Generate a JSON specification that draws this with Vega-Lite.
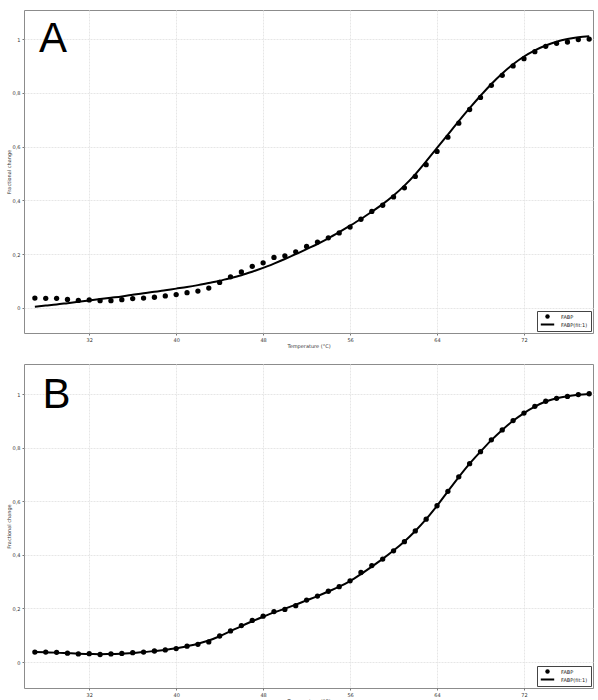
{
  "$schema": "https://vega.github.io/schema/vega-lite/v6.json",
  "padding": {"left": 5, "top": 9, "right": 2, "bottom": 0},
  "background": "white",
  "datasets": {
    "pts": [
      {"panel": "A", "t": 27, "v": 0.037}, {"panel": "A", "t": 28, "v": 0.036}, {"panel": "A", "t": 29, "v": 0.036}, {"panel": "A", "t": 30, "v": 0.032},
      {"panel": "A", "t": 31, "v": 0.028}, {"panel": "A", "t": 32, "v": 0.030}, {"panel": "A", "t": 33, "v": 0.027}, {"panel": "A", "t": 34, "v": 0.027},
      {"panel": "A", "t": 35, "v": 0.031}, {"panel": "A", "t": 36, "v": 0.035}, {"panel": "A", "t": 37, "v": 0.037}, {"panel": "A", "t": 38, "v": 0.040},
      {"panel": "A", "t": 39, "v": 0.045}, {"panel": "A", "t": 40, "v": 0.050}, {"panel": "A", "t": 41, "v": 0.057}, {"panel": "A", "t": 42, "v": 0.063},
      {"panel": "A", "t": 43, "v": 0.074}, {"panel": "A", "t": 44, "v": 0.095}, {"panel": "A", "t": 45, "v": 0.116}, {"panel": "A", "t": 46, "v": 0.134},
      {"panel": "A", "t": 47, "v": 0.155}, {"panel": "A", "t": 48, "v": 0.168}, {"panel": "A", "t": 49, "v": 0.188}, {"panel": "A", "t": 50, "v": 0.194},
      {"panel": "A", "t": 51, "v": 0.209}, {"panel": "A", "t": 52, "v": 0.229}, {"panel": "A", "t": 53, "v": 0.245}, {"panel": "A", "t": 54, "v": 0.261},
      {"panel": "A", "t": 55, "v": 0.279}, {"panel": "A", "t": 56, "v": 0.301}, {"panel": "A", "t": 57, "v": 0.330}, {"panel": "A", "t": 58, "v": 0.359},
      {"panel": "A", "t": 59, "v": 0.382}, {"panel": "A", "t": 60, "v": 0.413}, {"panel": "A", "t": 61, "v": 0.447}, {"panel": "A", "t": 62, "v": 0.489},
      {"panel": "A", "t": 63, "v": 0.533}, {"panel": "A", "t": 64, "v": 0.582}, {"panel": "A", "t": 65, "v": 0.635}, {"panel": "A", "t": 66, "v": 0.687},
      {"panel": "A", "t": 67, "v": 0.738}, {"panel": "A", "t": 68, "v": 0.783}, {"panel": "A", "t": 69, "v": 0.828}, {"panel": "A", "t": 70, "v": 0.865},
      {"panel": "A", "t": 71, "v": 0.900}, {"panel": "A", "t": 72, "v": 0.927}, {"panel": "A", "t": 73, "v": 0.953}, {"panel": "A", "t": 74, "v": 0.973},
      {"panel": "A", "t": 75, "v": 0.984}, {"panel": "A", "t": 76, "v": 0.989}, {"panel": "A", "t": 77, "v": 0.998}, {"panel": "A", "t": 78, "v": 1.000},
      {"panel": "B", "t": 27, "v": 0.037}, {"panel": "B", "t": 28, "v": 0.037}, {"panel": "B", "t": 29, "v": 0.036}, {"panel": "B", "t": 30, "v": 0.033},
      {"panel": "B", "t": 31, "v": 0.030}, {"panel": "B", "t": 32, "v": 0.031}, {"panel": "B", "t": 33, "v": 0.028}, {"panel": "B", "t": 34, "v": 0.030},
      {"panel": "B", "t": 35, "v": 0.032}, {"panel": "B", "t": 36, "v": 0.035}, {"panel": "B", "t": 37, "v": 0.037}, {"panel": "B", "t": 38, "v": 0.041},
      {"panel": "B", "t": 39, "v": 0.045}, {"panel": "B", "t": 40, "v": 0.050}, {"panel": "B", "t": 41, "v": 0.059}, {"panel": "B", "t": 42, "v": 0.066},
      {"panel": "B", "t": 43, "v": 0.075}, {"panel": "B", "t": 44, "v": 0.097}, {"panel": "B", "t": 45, "v": 0.116}, {"panel": "B", "t": 46, "v": 0.136},
      {"panel": "B", "t": 47, "v": 0.155}, {"panel": "B", "t": 48, "v": 0.171}, {"panel": "B", "t": 49, "v": 0.188}, {"panel": "B", "t": 50, "v": 0.196},
      {"panel": "B", "t": 51, "v": 0.210}, {"panel": "B", "t": 52, "v": 0.231}, {"panel": "B", "t": 53, "v": 0.246}, {"panel": "B", "t": 54, "v": 0.264},
      {"panel": "B", "t": 55, "v": 0.281}, {"panel": "B", "t": 56, "v": 0.303}, {"panel": "B", "t": 57, "v": 0.334}, {"panel": "B", "t": 58, "v": 0.360},
      {"panel": "B", "t": 59, "v": 0.384}, {"panel": "B", "t": 60, "v": 0.415}, {"panel": "B", "t": 61, "v": 0.449}, {"panel": "B", "t": 62, "v": 0.489},
      {"panel": "B", "t": 63, "v": 0.533}, {"panel": "B", "t": 64, "v": 0.583}, {"panel": "B", "t": 65, "v": 0.637}, {"panel": "B", "t": 66, "v": 0.691},
      {"panel": "B", "t": 67, "v": 0.740}, {"panel": "B", "t": 68, "v": 0.785}, {"panel": "B", "t": 69, "v": 0.829}, {"panel": "B", "t": 70, "v": 0.866},
      {"panel": "B", "t": 71, "v": 0.901}, {"panel": "B", "t": 72, "v": 0.929}, {"panel": "B", "t": 73, "v": 0.954}, {"panel": "B", "t": 74, "v": 0.973},
      {"panel": "B", "t": 75, "v": 0.984}, {"panel": "B", "t": 76, "v": 0.991}, {"panel": "B", "t": 77, "v": 0.998}, {"panel": "B", "t": 78, "v": 1.001}
    ],
    "fit": [
      {"panel": "A", "t": 27, "v": 0.005}, {"panel": "A", "t": 28, "v": 0.009}, {"panel": "A", "t": 29, "v": 0.013}, {"panel": "A", "t": 30, "v": 0.018},
      {"panel": "A", "t": 31, "v": 0.023}, {"panel": "A", "t": 32, "v": 0.028}, {"panel": "A", "t": 33, "v": 0.033}, {"panel": "A", "t": 34, "v": 0.038},
      {"panel": "A", "t": 35, "v": 0.043}, {"panel": "A", "t": 36, "v": 0.049}, {"panel": "A", "t": 37, "v": 0.055}, {"panel": "A", "t": 38, "v": 0.060},
      {"panel": "A", "t": 39, "v": 0.066}, {"panel": "A", "t": 40, "v": 0.072}, {"panel": "A", "t": 41, "v": 0.078}, {"panel": "A", "t": 42, "v": 0.085},
      {"panel": "A", "t": 43, "v": 0.093}, {"panel": "A", "t": 44, "v": 0.101}, {"panel": "A", "t": 45, "v": 0.111}, {"panel": "A", "t": 46, "v": 0.122},
      {"panel": "A", "t": 47, "v": 0.135}, {"panel": "A", "t": 48, "v": 0.149}, {"panel": "A", "t": 49, "v": 0.165}, {"panel": "A", "t": 50, "v": 0.182},
      {"panel": "A", "t": 51, "v": 0.200}, {"panel": "A", "t": 52, "v": 0.219}, {"panel": "A", "t": 53, "v": 0.238}, {"panel": "A", "t": 54, "v": 0.259},
      {"panel": "A", "t": 55, "v": 0.282}, {"panel": "A", "t": 56, "v": 0.306}, {"panel": "A", "t": 57, "v": 0.331}, {"panel": "A", "t": 58, "v": 0.358},
      {"panel": "A", "t": 59, "v": 0.386}, {"panel": "A", "t": 60, "v": 0.418}, {"panel": "A", "t": 61, "v": 0.455}, {"panel": "A", "t": 62, "v": 0.497},
      {"panel": "A", "t": 63, "v": 0.545}, {"panel": "A", "t": 64, "v": 0.595}, {"panel": "A", "t": 65, "v": 0.645}, {"panel": "A", "t": 66, "v": 0.695},
      {"panel": "A", "t": 67, "v": 0.743}, {"panel": "A", "t": 68, "v": 0.789}, {"panel": "A", "t": 69, "v": 0.833}, {"panel": "A", "t": 70, "v": 0.872},
      {"panel": "A", "t": 71, "v": 0.906}, {"panel": "A", "t": 72, "v": 0.935}, {"panel": "A", "t": 73, "v": 0.958}, {"panel": "A", "t": 74, "v": 0.976},
      {"panel": "A", "t": 75, "v": 0.990}, {"panel": "A", "t": 76, "v": 1.000}, {"panel": "A", "t": 77, "v": 1.007}, {"panel": "A", "t": 78, "v": 1.010},
      {"panel": "B", "t": 27, "v": 0.037}, {"panel": "B", "t": 28, "v": 0.036}, {"panel": "B", "t": 29, "v": 0.035}, {"panel": "B", "t": 30, "v": 0.033},
      {"panel": "B", "t": 31, "v": 0.031}, {"panel": "B", "t": 32, "v": 0.030}, {"panel": "B", "t": 33, "v": 0.029}, {"panel": "B", "t": 34, "v": 0.030},
      {"panel": "B", "t": 35, "v": 0.031}, {"panel": "B", "t": 36, "v": 0.034}, {"panel": "B", "t": 37, "v": 0.037}, {"panel": "B", "t": 38, "v": 0.041},
      {"panel": "B", "t": 39, "v": 0.045}, {"panel": "B", "t": 40, "v": 0.051}, {"panel": "B", "t": 41, "v": 0.059}, {"panel": "B", "t": 42, "v": 0.068},
      {"panel": "B", "t": 43, "v": 0.080}, {"panel": "B", "t": 44, "v": 0.096}, {"panel": "B", "t": 45, "v": 0.115}, {"panel": "B", "t": 46, "v": 0.134},
      {"panel": "B", "t": 47, "v": 0.152}, {"panel": "B", "t": 48, "v": 0.169}, {"panel": "B", "t": 49, "v": 0.185}, {"panel": "B", "t": 50, "v": 0.199},
      {"panel": "B", "t": 51, "v": 0.214}, {"panel": "B", "t": 52, "v": 0.230}, {"panel": "B", "t": 53, "v": 0.246}, {"panel": "B", "t": 54, "v": 0.263},
      {"panel": "B", "t": 55, "v": 0.281}, {"panel": "B", "t": 56, "v": 0.302}, {"panel": "B", "t": 57, "v": 0.328}, {"panel": "B", "t": 58, "v": 0.356},
      {"panel": "B", "t": 59, "v": 0.385}, {"panel": "B", "t": 60, "v": 0.416}, {"panel": "B", "t": 61, "v": 0.450}, {"panel": "B", "t": 62, "v": 0.489},
      {"panel": "B", "t": 63, "v": 0.533}, {"panel": "B", "t": 64, "v": 0.583}, {"panel": "B", "t": 65, "v": 0.637}, {"panel": "B", "t": 66, "v": 0.690},
      {"panel": "B", "t": 67, "v": 0.740}, {"panel": "B", "t": 68, "v": 0.785}, {"panel": "B", "t": 69, "v": 0.828}, {"panel": "B", "t": 70, "v": 0.866},
      {"panel": "B", "t": 71, "v": 0.900}, {"panel": "B", "t": 72, "v": 0.929}, {"panel": "B", "t": 73, "v": 0.953}, {"panel": "B", "t": 74, "v": 0.972},
      {"panel": "B", "t": 75, "v": 0.984}, {"panel": "B", "t": 76, "v": 0.992}, {"panel": "B", "t": 77, "v": 0.997}, {"panel": "B", "t": 78, "v": 1.000}
    ]
  },
  "config": {
    "font": "DejaVu Sans",
    "view": {"stroke": "#8c8c8c", "strokeWidth": 1},
    "axis": {
      "labelFontSize": 5, "titleFontSize": 5, "titleFontWeight": "normal",
      "labelColor": "#333", "titleColor": "#333", "domain": false,
      "tickColor": "#777", "tickSize": 2, "gridColor": "#e6e6e6", "gridDash": [2, 1],
      "labelPadding": 2, "titlePadding": 1
    },
    "legend": {
      "orient": "bottom-right", "offset": 2, "padding": 3, "strokeColor": "#444", "fillColor": "white",
      "labelFontSize": 5, "labelColor": "#222", "symbolSize": 20, "symbolStrokeWidth": 0,
      "symbolFillColor": "black", "rowPadding": 2, "symbolOffset": 5, "labelOffset": 11, "symbolOpacity": 1
    },
    "concat": {"spacing": 14}
  },
  "resolve": {"scale": {"shape": "independent"}, "legend": {"shape": "independent"}},
  "vconcat": [
    {
      "width": 569, "height": 323,
      "layer": [
        {
          "data": {"name": "fit"},
          "transform": [{"filter": "datum.panel == 'A'"}],
          "mark": {"type": "line", "color": "black", "strokeWidth": 2, "interpolate": "monotone"},
          "encoding": {
            "x": {"field": "t", "type": "quantitative", "scale": {"domain": [26, 78.35], "nice": false, "zero": false},
                  "axis": {"values": [32, 40, 48, 56, 64, 72], "format": "d", "title": "Temperature (°C)"}},
            "y": {"field": "v", "type": "quantitative", "scale": {"domain": [-0.093, 1.108], "nice": false, "zero": false},
                  "axis": {"values": [0, 0.2, 0.4, 0.6, 0.8, 1], "title": "Fractional change",
                           "labelExpr": "datum.value == 0 ? '0' : datum.value == 1 ? '1' : replace(format(datum.value, '.1f'), '.', ',')"}}
          }
        },
        {
          "data": {"name": "pts"},
          "transform": [{"filter": "datum.panel == 'A'"}],
          "mark": {"type": "point", "filled": true, "color": "black", "size": 28, "opacity": 1},
          "encoding": {
            "x": {"field": "t", "type": "quantitative"},
            "y": {"field": "v", "type": "quantitative"},
            "shape": {"datum": "FABP", "scale": {"domain": ["FABP", "FABP(fit:1)"], "range": ["circle", "M-3,-0.45H3V0.45H-3Z"]}, "legend": {"title": null}}
          }
        },
        {
          "data": {"values": [{"label": "A"}]},
          "mark": {"type": "text", "fontSize": 42, "font": "Liberation Sans", "align": "left", "baseline": "alphabetic", "color": "black"},
          "encoding": {
            "x": {"datum": 27.38, "type": "quantitative"},
            "y": {"datum": 0.952, "type": "quantitative"},
            "text": {"field": "label"}
          }
        }
      ]
    },
    {
      "width": 569, "height": 324,
      "layer": [
        {
          "data": {"name": "fit"},
          "transform": [{"filter": "datum.panel == 'B'"}],
          "mark": {"type": "line", "color": "black", "strokeWidth": 2, "interpolate": "monotone"},
          "encoding": {
            "x": {"field": "t", "type": "quantitative", "scale": {"domain": [26, 78.35], "nice": false, "zero": false},
                  "axis": {"values": [32, 40, 48, 56, 64, 72], "format": "d", "title": "Temperature (°C)"}},
            "y": {"field": "v", "type": "quantitative", "scale": {"domain": [-0.097, 1.112], "nice": false, "zero": false},
                  "axis": {"values": [0, 0.2, 0.4, 0.6, 0.8, 1], "title": "Fractional change",
                           "labelExpr": "datum.value == 0 ? '0' : datum.value == 1 ? '1' : replace(format(datum.value, '.1f'), '.', ',')"}}
          }
        },
        {
          "data": {"name": "pts"},
          "transform": [{"filter": "datum.panel == 'B'"}],
          "mark": {"type": "point", "filled": true, "color": "black", "size": 28, "opacity": 1},
          "encoding": {
            "x": {"field": "t", "type": "quantitative"},
            "y": {"field": "v", "type": "quantitative"},
            "shape": {"datum": "FABP", "scale": {"domain": ["FABP", "FABP(fit:1)"], "range": ["circle", "M-3,-0.45H3V0.45H-3Z"]}, "legend": {"title": null}}
          }
        },
        {
          "data": {"values": [{"label": "B"}]},
          "mark": {"type": "text", "fontSize": 42, "font": "Liberation Sans", "align": "left", "baseline": "alphabetic", "color": "black"},
          "encoding": {
            "x": {"datum": 27.7, "type": "quantitative"},
            "y": {"datum": 0.948, "type": "quantitative"},
            "text": {"field": "label"}
          }
        }
      ]
    }
  ]
}
